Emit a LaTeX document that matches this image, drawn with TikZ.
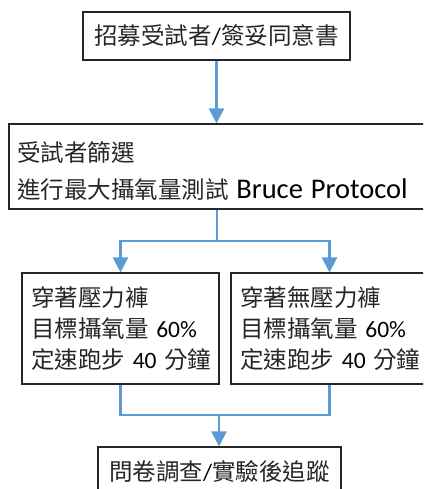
\documentclass[tikz,border=0pt]{standalone}
\usepackage{fontspec}
\setmainfont{Carlito}
\newfontfamily\cjk{Noto Sans CJK TC}
\usetikzlibrary{arrows.meta}
\definecolor{flowblue}{HTML}{5B9BD5}
\newcommand{\zh}[1]{{\cjk\color{black!85}#1}}

\begin{document}
\begin{tikzpicture}[x=1pt,y=-1pt,>={Triangle[width=15pt,length=15pt]},
                    font=\fontsize{23.5}{31}\selectfont]
  \tikzstyle{box}=[rectangle,draw=black!85,line width=1.1pt,inner xsep=10pt,inner ysep=0pt]
  \tikzstyle{flow}=[draw=flowblue,line width=2.2pt]
  \useasboundingbox (0,0) rectangle (423,489);
  \clip (0,0) rectangle (423,489);

  \node[box,minimum width=267pt,minimum height=48pt] (recruit) at (216.5,36)
    {\zh{招募受試者}/\zh{簽妥同意書}};
  \node[box,minimum width=416pt,minimum height=85pt,text width=400pt,inner xsep=8pt,align=left] (screen) at (217,166.5)
    {\rule{0pt}{29pt}\zh{受試者篩選}\\[6pt]
     \zh{進行最大攝氧量測試} {\fontsize{28.5}{31}\selectfont Bruce Protocol}};
  \node[box,minimum width=197pt,minimum height=111pt,text width=189pt,inner xsep=4pt,align=left] (press) at (120.5,328.5)
    {\hspace*{5pt}\zh{穿著壓力褲}\\
     \hspace*{5pt}\zh{目標攝氧量} 60\%\\
     \hspace*{5pt}\zh{定速跑步} 40 \zh{分鐘}};
  \node[box,minimum width=197pt,minimum height=111pt,text width=189pt,inner xsep=4pt,align=left] (nopress) at (329.5,328.5)
    {\hspace*{5pt}\zh{穿著無壓力褲}\\
     \hspace*{5pt}\zh{目標攝氧量} 60\%\\
     \hspace*{5pt}\zh{定速跑步} 40 \zh{分鐘}};
  \node[box,minimum width=243pt,minimum height=48pt] (survey) at (219.5,471)
    {\zh{問卷調查}/\zh{實驗後追蹤}};

  \coordinate (split) at (217,241);
  \coordinate (merge) at (219,415);

  \draw[flow,->] (recruit.south) -- (recruit.south |- screen.north);
  \draw[flow] (screen.south) -- (split);
  \draw[flow,->] (split) -| (press.north);
  \draw[flow,->] (split) -| (nopress.north);
  \draw[flow] (press.south) |- (merge);
  \draw[flow] (nopress.south) |- (merge);
  \draw[flow,->] (merge) -- (merge |- survey.north);
\end{tikzpicture}
\end{document}
